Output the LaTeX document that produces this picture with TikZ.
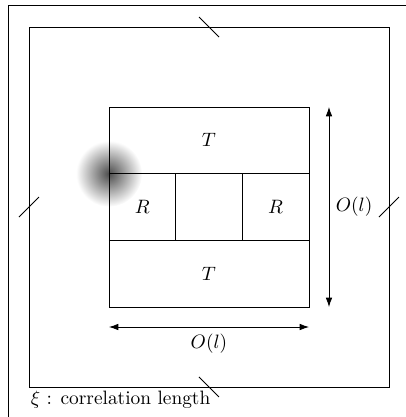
\documentclass[tikz,border=0pt]{standalone}
\usepackage{amssymb}
\usepackage{amsmath}
\usetikzlibrary{arrows.meta}

\begin{document}
\begin{tikzpicture}[x=0.363cm,y=0.363cm, >={Latex[length=1.7mm,width=1.2mm]}]
  \useasboundingbox (-10.45,-10.5) rectangle (9.85,10.35);
  \shade[inner color=black!70, outer color=white] (-5,1.667) circle (1.65);
  \draw (-10.05,-10.5) -- (-10.05,10.1) -- (9.85,10.1);
  \draw (-9,-9) rectangle (9,9);
  \draw (-0.5,9.5) -- (0.5,8.5);
  \draw (-0.5,-8.5) -- (0.5,-9.5);
  \draw (-9.5,-0.5) -- (-8.5,0.5);
  \draw (8.5,-0.5) -- (9.5,0.5);
  \draw (-5,-5) rectangle (5,5);
  \draw (-5,1.667) -- (5,1.667);
  \draw (-5,-1.667) -- (5,-1.667);
  \draw (-1.667,-1.667) -- (-1.667,1.667);
  \draw (1.667,-1.667) -- (1.667,1.667);
  \node (t1) at (0,3.333) {$T$};
  \node (t2) at (0,-3.333) {$T$};
  \node (r1) at (-3.333,0) {$R$};
  \node (r2) at (3.333,0) {$R$};
  \coordinate (vtop) at (6,5);
  \coordinate (vbot) at (6,-5);
  \coordinate (hl) at (-5,-6);
  \coordinate (hr) at (5,-6);
  \draw[<->] (vtop) -- (vbot) node[midway, right] (ov) {$O(l)$};
  \draw[<->] (hl) -- (hr) node[midway, below] (oh) {$O(l)$};
  \node[anchor=west] (xi) at (-9.25,-9.65) {$\xi$ : correlation length};
\end{tikzpicture}
\end{document}
